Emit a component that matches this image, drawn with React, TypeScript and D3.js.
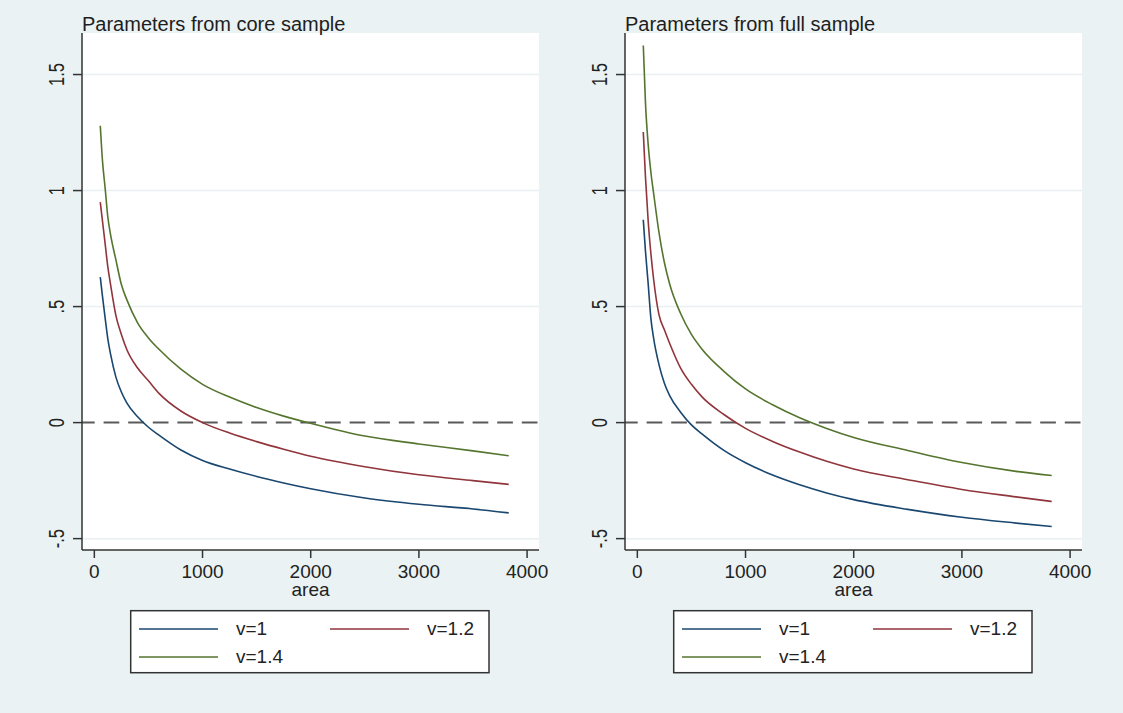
import React from 'react';
import * as d3 from 'd3';

const areaGrid = [55, 75, 100, 125, 150, 200, 250, 300, 400, 500, 600, 800, 1000, 1250, 1500, 1750, 2000, 2500, 3000, 3500, 3830];

// parameters from core sample
const coreV1 = [0.627, 0.545, 0.45, 0.36, 0.295, 0.195, 0.132, 0.085, 0.025, -0.02, -0.055, -0.118, -0.163, -0.2, -0.232, -0.26, -0.285, -0.325, -0.352, -0.372, -0.389];
const coreV12 = [0.95, 0.87, 0.77, 0.67, 0.595, 0.46, 0.38, 0.315, 0.235, 0.18, 0.125, 0.05, 0.0, -0.045, -0.082, -0.115, -0.145, -0.19, -0.225, -0.25, -0.266];
const coreV14 = [1.279, 1.13, 1.01, 0.885, 0.81, 0.7, 0.595, 0.53, 0.43, 0.365, 0.315, 0.23, 0.165, 0.11, 0.065, 0.028, -0.003, -0.058, -0.092, -0.122, -0.143];

// parameters from full sample
const fullV1 = [0.874, 0.74, 0.6, 0.45, 0.365, 0.25, 0.17, 0.115, 0.045, -0.01, -0.05, -0.12, -0.173, -0.226, -0.268, -0.303, -0.332, -0.374, -0.408, -0.433, -0.448];
const fullV12 = [1.252, 1.06, 0.87, 0.73, 0.62, 0.465, 0.4, 0.34, 0.235, 0.165, 0.11, 0.035, -0.025, -0.081, -0.127, -0.167, -0.2, -0.246, -0.288, -0.32, -0.34];
const fullV14 = [1.625, 1.38, 1.2, 1.08, 0.99, 0.82, 0.69, 0.595, 0.47, 0.38, 0.315, 0.221, 0.145, 0.077, 0.021, -0.025, -0.064, -0.12, -0.172, -0.21, -0.228];

const seriesLabels = ['v=1', 'v=1.2', 'v=1.4'];
const seriesColors = ['#1a476f', '#90353b', '#55752f'];
const panelTitles = ['Parameters from core sample', 'Parameters from full sample'];
const xTicks = [0, 1000, 2000, 3000, 4000];
const yTicks = [-0.5, 0, 0.5, 1, 1.5];
const yTickLabels = ['-.5', '0', '.5', '1', '1.5'];
const xTitle = 'area';

const W = 1123;
const H = 713;
const BG = '#eaf2f3';
const FONT = '"Liberation Sans", Arial, sans-serif';

type PanelProps = { dx: number; title: string; series: number[][] };

function Panel({ dx, title, series }: PanelProps) {
  const left = 82 + dx;
  const right = 539 + dx;
  const top = 33;
  const bottom = 550;

  const x = d3.scaleLinear().domain([-114, 4110]).range([left, right]);
  const y = d3.scaleLinear().domain([-0.549, 1.679]).range([bottom, top]);

  const line = d3
    .line<number>()
    .x((_, i) => x(areaGrid[i]))
    .y((d) => y(d))
    .curve(d3.curveMonotoneX);

  const legendRows = [
    { s: 0, col: 0, row: 0 },
    { s: 1, col: 1, row: 0 },
    { s: 2, col: 0, row: 1 },
  ];

  return (
    <g>
      <rect x={left} y={top} width={right - left} height={bottom - top} fill="#fff" />
      {yTicks
        .filter((t) => t !== 0)
        .map((t) => (
          <line key={t} x1={left} x2={right} y1={y(t)} y2={y(t)} stroke="#e8f0f1" strokeWidth={1.5} />
        ))}
      <line
        x1={left}
        x2={right}
        y1={y(0)}
        y2={y(0)}
        stroke="#5a5a5a"
        strokeWidth={2}
        strokeDasharray="15.7 8.9"
        strokeDashoffset={3}
      />
      {series.map((vals, i) => (
        <path key={i} d={line(vals) || ''} fill="none" stroke={seriesColors[i]} strokeWidth={1.6} />
      ))}

      {/* axes */}
      <line x1={left} x2={left} y1={top} y2={bottom} stroke="#333" strokeWidth={1.5} />
      <line x1={left} x2={right} y1={bottom} y2={bottom} stroke="#333" strokeWidth={1.5} />
      {yTicks.map((t, i) => (
        <g key={t}>
          <line x1={left - 9} x2={left} y1={y(t)} y2={y(t)} stroke="#333" strokeWidth={1.5} />
          <text
            transform={`translate(${left - 18},${y(t)}) rotate(-90) scale(0.75,1)`}
            textAnchor="middle"
            fontSize={22}
            fontFamily={FONT}
            fill="#222"
          >
            {yTickLabels[i]}
          </text>
        </g>
      ))}
      {xTicks.map((t) => (
        <g key={t}>
          <line x1={x(t)} x2={x(t)} y1={bottom} y2={bottom + 8} stroke="#333" strokeWidth={1.5} />
          <text x={x(t)} y={578} textAnchor="middle" fontSize={19} fontFamily={FONT} fill="#222">
            {t}
          </text>
        </g>
      ))}
      <text x={(left + right) / 2} y={596} textAnchor="middle" fontSize={19} fontFamily={FONT} fill="#222">
        {xTitle}
      </text>
      <text x={left} y={30.5} fontSize={20} fontFamily={FONT} fill="#1e1e1e">
        {title}
      </text>

      {/* legend */}
      <rect x={left + 48.7} y={610.7} width={358.3} height={62} fill="#fff" stroke="#333" strokeWidth={1.5} />
      {legendRows.map(({ s, col, row }) => {
        const kx = left + 57 + col * 191;
        const ky = 629 + row * 28;
        return (
          <g key={s}>
            <line x1={kx} x2={kx + 79} y1={ky} y2={ky} stroke={seriesColors[s]} strokeWidth={1.5} />
            <text x={kx + 97} y={ky + 6} fontSize={19} fontFamily={FONT} fill="#222">
              {seriesLabels[s]}
            </text>
          </g>
        );
      })}
    </g>
  );
}

export default function App() {
  return (
    <svg
      width={W}
      height={H}
      viewBox={`0 0 ${W} ${H}`}
      style={{ position: 'absolute', left: 0, top: 0, display: 'block' }}
    >
      <rect width={W} height={H} fill={BG} />
      <Panel dx={0} title={panelTitles[0]} series={[coreV1, coreV12, coreV14]} />
      <Panel dx={543} title={panelTitles[1]} series={[fullV1, fullV12, fullV14]} />
    </svg>
  );
}
